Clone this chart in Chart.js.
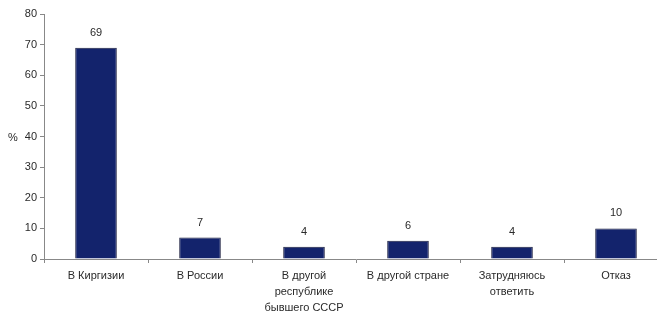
<!DOCTYPE html>
<html>
<head>
<meta charset="utf-8">
<script src="https://cdn.jsdelivr.net/npm/chart.js@4"></script>
<style>
  html, body { margin: 0; padding: 0; background: #fff; overflow: hidden; }
  #wrap { width: 670px; height: 320px; }
</style>
</head>
<body>
<div id="wrap"><canvas id="chart" width="670" height="320"></canvas></div>
<script>
const categories = [
    'В Киргизии',
    'В России',
    ['В другой', 'республике', 'бывшего СССР'],
    'В другой стране',
    ['Затрудняюсь', 'ответить'],
    'Отказ'
];
const values = [69, 7, 4, 6, 4, 10];
const yTicks = [0, 10, 20, 30, 40, 50, 60, 70, 80];

const textColor = '#2a2a2a';
const font = { family: 'Liberation Sans, Arial, sans-serif', size: 11 };

// value labels above bars + the "%" axis caption
const extras = {
    id: 'extras',
    afterDatasetsDraw(chart) {
        const ctx = chart.ctx;
        ctx.save();
        ctx.font = '11px Liberation Sans, Arial, sans-serif';
        ctx.fillStyle = textColor;
        ctx.textAlign = 'center';
        ctx.textBaseline = 'middle';
        chart.getDatasetMeta(0).data.forEach((bar, i) => {
            ctx.fillText(values[i], bar.x, bar.y - 15);
        });
        const y = chart.scales.y;
        ctx.fillText('%', 13, y.getPixelForValue(40) + 1);
        ctx.restore();
    }
};

new Chart(document.getElementById('chart'), {
    type: 'bar',
    data: {
        labels: categories,
        datasets: [{
            data: values,
            backgroundColor: '#13236c',
            borderColor: '#1b1f3f',
            borderWidth: 1,
            barPercentage: 0.4,
            categoryPercentage: 1
        }]
    },
    options: {
        responsive: false,
        animation: false,
        layout: { padding: { top: 14, left: 0, right: 2, bottom: 0 } },
        plugins: { legend: { display: false }, tooltip: { enabled: false } },
        scales: {
            x: {
                afterFit(scale) { scale.height = 61; },
                border: { color: '#888', width: 1 },
                grid: { drawOnChartArea: false, drawTicks: true, tickLength: 4, color: '#888' },
                ticks: {
                    color: textColor,
                    font: { family: font.family, size: 11, lineHeight: 1.45 },
                    padding: 5, maxRotation: 0, autoSkip: false
                }
            },
            y: {
                min: 0,
                max: 80,
                afterFit(scale) { scale.width = 44; },
                afterBuildTicks(scale) { scale.ticks = yTicks.map(v => ({ value: v })); },
                border: { color: '#888', width: 1 },
                grid: { drawOnChartArea: false, drawTicks: true, tickLength: 4, color: '#888' },
                ticks: { color: textColor, font: font, padding: 3 }
            }
        }
    },
    plugins: [extras]
});
</script>
</body>
</html>
